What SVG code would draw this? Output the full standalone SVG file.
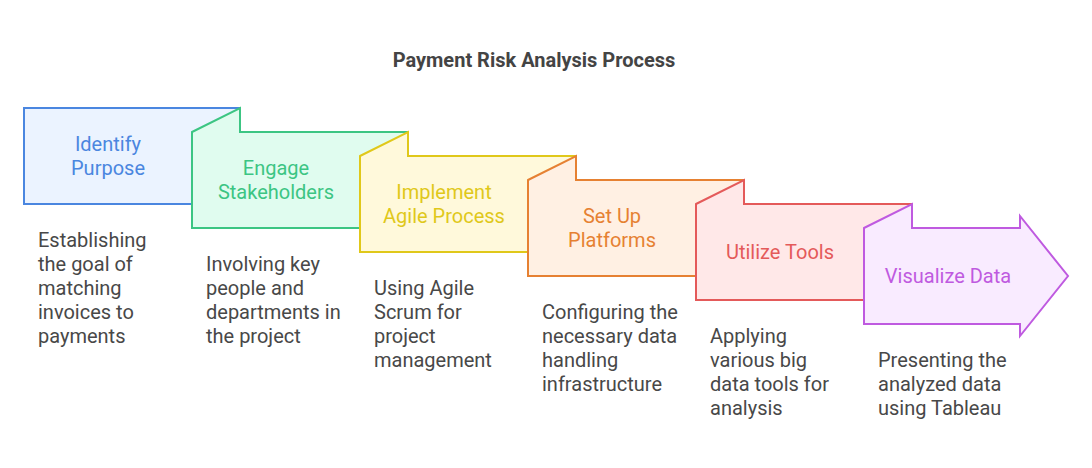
<svg xmlns="http://www.w3.org/2000/svg" width="1092" height="468" viewBox="0 0 1092 468">
<style>
text{font-family:Roboto,"Liberation Sans",sans-serif;}
.title{font-size:20px;font-weight:bold;fill:#444;text-anchor:middle;}
.lbl{font-size:20px;text-anchor:middle;}
.desc{font-size:20px;fill:#484848;}
.s{stroke-width:2;stroke-linejoin:miter;}
</style>
<rect width="1092" height="468" fill="#ffffff"/>
<text class="title" x="534" y="67">Payment Risk Analysis Process</text>
<g id="connectors"></g>
<g id="n1">
<path class="s" d="M24,108 H240 V204 H24 Z" fill="#ebf3ff" stroke="#4a86e0"/>
<text class="lbl" fill="#4a86e0" x="108" y="151">Identify</text>
<text class="lbl" fill="#4a86e0" x="108" y="175">Purpose</text>
<text class="desc" x="38" y="247">Establishing</text>
<text class="desc" x="38" y="271">the goal of</text>
<text class="desc" x="38" y="295">matching</text>
<text class="desc" x="38" y="319">invoices to</text>
<text class="desc" x="38" y="343">payments</text>
</g>
<g id="n2">
<path class="s" d="M192,132 L240,108 V132 H408 V228 H192 Z" fill="#e0fcef" stroke="#3cc583"/>
<text class="lbl" fill="#3cc583" x="276" y="175">Engage</text>
<text class="lbl" fill="#3cc583" x="276" y="199">Stakeholders</text>
<text class="desc" x="206" y="271">Involving key</text>
<text class="desc" x="206" y="295">people and</text>
<text class="desc" x="206" y="319">departments in</text>
<text class="desc" x="206" y="343">the project</text>
</g>
<g id="n3">
<path class="s" d="M360,156 L408,132 V156 H576 V252 H360 Z" fill="#fff9db" stroke="#e0c81a"/>
<text class="lbl" fill="#e0c81a" x="444" y="199">Implement</text>
<text class="lbl" fill="#e0c81a" x="444" y="223">Agile Process</text>
<text class="desc" x="374" y="295">Using Agile</text>
<text class="desc" x="374" y="319">Scrum for</text>
<text class="desc" x="374" y="343">project</text>
<text class="desc" x="374" y="367">management</text>
</g>
<g id="n4">
<path class="s" d="M528,180 L576,156 V180 H744 V276 H528 Z" fill="#fff0e3" stroke="#e68132"/>
<text class="lbl" fill="#e68132" x="612" y="223">Set Up</text>
<text class="lbl" fill="#e68132" x="612" y="247">Platforms</text>
<text class="desc" x="542" y="319">Configuring the</text>
<text class="desc" x="542" y="343">necessary data</text>
<text class="desc" x="542" y="367">handling</text>
<text class="desc" x="542" y="391">infrastructure</text>
</g>
<g id="n5">
<path class="s" d="M696,204 L744,180 V204 H912 V300 H696 Z" fill="#ffe8e8" stroke="#e45a5a"/>
<text class="lbl" fill="#e45a5a" x="780" y="259">Utilize Tools</text>
<text class="desc" x="710" y="343">Applying</text>
<text class="desc" x="710" y="367">various big</text>
<text class="desc" x="710" y="391">data tools for</text>
<text class="desc" x="710" y="415">analysis</text>
</g>
<g id="n6">
<path class="s" d="M864,228 L912,204 V228 H1020 V216 L1068,276 L1020,336 V324 H864 Z" fill="#f9ebff" stroke="#bf5ae0"/>
<text class="lbl" fill="#bf5ae0" x="948" y="283">Visualize Data</text>
<text class="desc" x="878" y="367">Presenting the</text>
<text class="desc" x="878" y="391">analyzed data</text>
<text class="desc" x="878" y="415">using Tableau</text>
</g>
</svg>
